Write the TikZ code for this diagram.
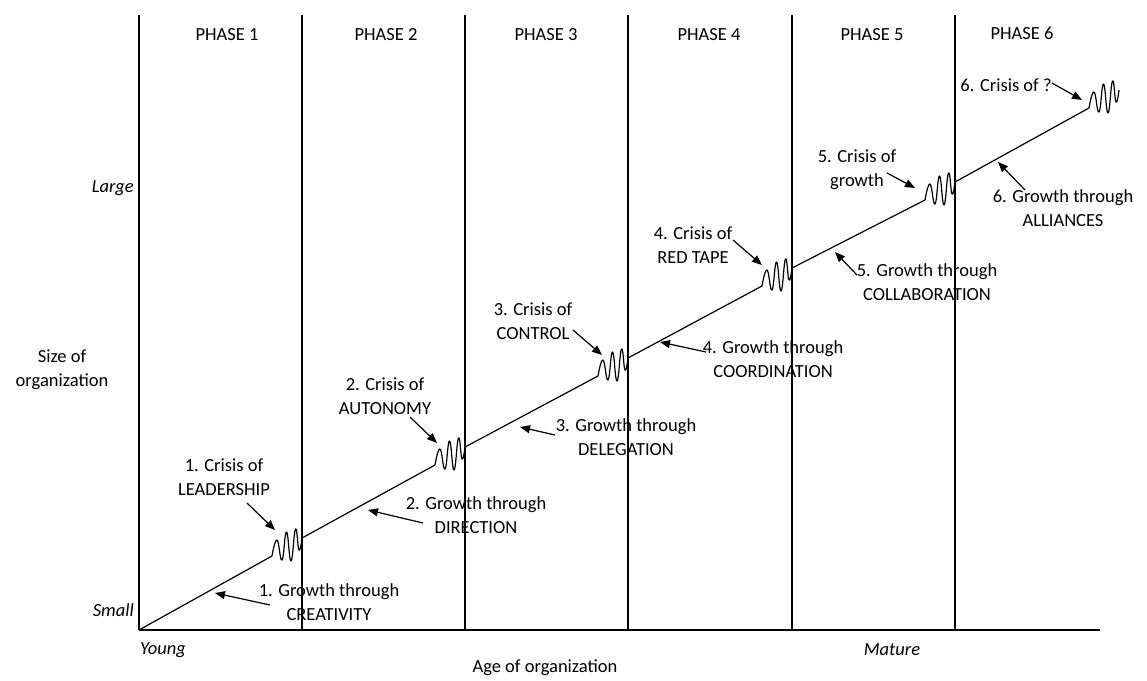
\documentclass[tikz,border=0pt]{standalone}
\usepackage{fontspec}
\setmainfont{Carlito}
\usetikzlibrary{arrows.meta}
\begin{document}
\begin{tikzpicture}[x=1pt,y=-1pt,
  every node/.style={font=\fontsize{18.5}{24}\selectfont, inner sep=0pt, align=center},
  divider/.style={line width=1.2pt},
  axis/.style={line width=1.8pt},
  growth/.style={line width=1.2pt},
  pointer/.style={line width=1.2pt, -{Triangle[length=10pt,width=8pt]}},
  axislabel/.style={font=\fontsize{18.5}{24}\selectfont\itshape},
  % a crisis: a short spring-like wave laid along the growth line
  crisiscoil/.pic={
    \draw[line width=1.2pt, line join=round]
      plot[smooth, tension=0.8] coordinates
      {(0,0) (5,-16) (10,4) (14.5,-24) (19,5) (23.5,-27) (27,-6) (30,-18)};
  }
]
\useasboundingbox (0,0) rectangle (1147,680);

% phase dividers and axes
\coordinate (o) at (139,630);
\coordinate (xend) at (1100,630);
\coordinate (ytop) at (139,15);
\foreach \x [count=\i] in {302,465,628,792,955}{
  \coordinate (dt\i) at (\x,15);
  \coordinate (db\i) at (\x,630);
  \draw[divider] (dt\i) -- (db\i);
}
\draw[divider] (ytop) -- (o);
\draw[axis] (o) -- (xend);

% phase headings
\node (p1) at (227,35) {PHASE 1};
\node (p2) at (386,35) {PHASE 2};
\node (p3) at (546,35) {PHASE 3};
\node (p4) at (709,35) {PHASE 4};
\node (p5) at (872,35) {PHASE 5};
\node (p6) at (1022,33) {PHASE 6};

% axis labels
\node[axislabel, anchor=east] (large) at (134,188) {Large};
\node[axislabel, anchor=east] (small) at (134,610) {Small};
\node (size) at (62,370) {Size of\\organization};
\node[axislabel, anchor=west] (young) at (140,650) {Young};
\node[axislabel] (mature) at (892,650) {Mature};
\node (age) at (545,668) {Age of organization};

% growth line, interrupted by the crisis coils
\coordinate (s1a) at (272,556);
\coordinate (s1b) at (302,538);
\coordinate (s2a) at (435,465);
\coordinate (s2b) at (465,447);
\coordinate (s3a) at (598,376);
\coordinate (s3b) at (628,358);
\coordinate (s4a) at (762,286);
\coordinate (s4b) at (792,268);
\coordinate (s5a) at (925,200);
\coordinate (s5b) at (955,182);
\coordinate (s6a) at (1089,108);

\draw[growth] (o) -- (s1a);
\draw[growth] (s1b) -- (s2a);
\draw[growth] (s2b) -- (s3a);
\draw[growth] (s3b) -- (s4a);
\draw[growth] (s4b) -- (s5a);
\draw[growth] (s5b) -- (s6a);
\foreach \k in {1,...,6}{
  \pic at (s\k a) {crisiscoil};
}

% stage labels
\node (c1) at (224,477) {1. Crisis of\\LEADERSHIP};
\node (g1) at (329,602) {1. Growth through\\CREATIVITY};
\node (c2) at (385,396) {2. Crisis of\\AUTONOMY};
\node (g2) at (476,515) {2. Growth through\\DIRECTION};
\node (c3) at (533,321) {3. Crisis of\\CONTROL};
\node (g3) at (626,437) {3. Growth through\\DELEGATION};
\node (c4) at (693,245) {4. Crisis of\\RED TAPE};
\node (g4) at (773,359) {4. Growth through\\COORDINATION};
\node (c5) at (857,170) {5. Crisis of\\growth};
\node (g5) at (927,282) {5. Growth through\\COLLABORATION};
\node (g6) at (1063,208) {6. Growth through\\ALLIANCES};
\node (c6) at (1006,85) {6. Crisis of ?};

% pointers onto the line
\coordinate (tc1) at (247,503);  \coordinate (hc1) at (275,530);
\coordinate (tg1) at (270,605);  \coordinate (hg1) at (215,593);
\coordinate (tc2) at (410,417);  \coordinate (hc2) at (437,443);
\coordinate (tg2) at (423,523);  \coordinate (hg2) at (368,510);
\coordinate (tc3) at (573,330);  \coordinate (hc3) at (602,355);
\coordinate (tg3) at (555,435);  \coordinate (hg3) at (520,427);
\coordinate (tc4) at (733,240);  \coordinate (hc4) at (762,265);
\coordinate (tg4) at (706,352);  \coordinate (hg4) at (660,342);
\coordinate (tc5) at (887,173);  \coordinate (hc5) at (915,188);
\coordinate (tg5) at (857,275);  \coordinate (hg5) at (835,252);
\coordinate (tc6) at (1052,83);  \coordinate (hc6) at (1082,100);
\coordinate (tg6) at (1025,190); \coordinate (hg6) at (998,162);
\foreach \k in {1,...,6}{
  \draw[pointer] (tc\k) -- (hc\k);
  \draw[pointer] (tg\k) -- (hg\k);
}
\end{tikzpicture}
\end{document}
